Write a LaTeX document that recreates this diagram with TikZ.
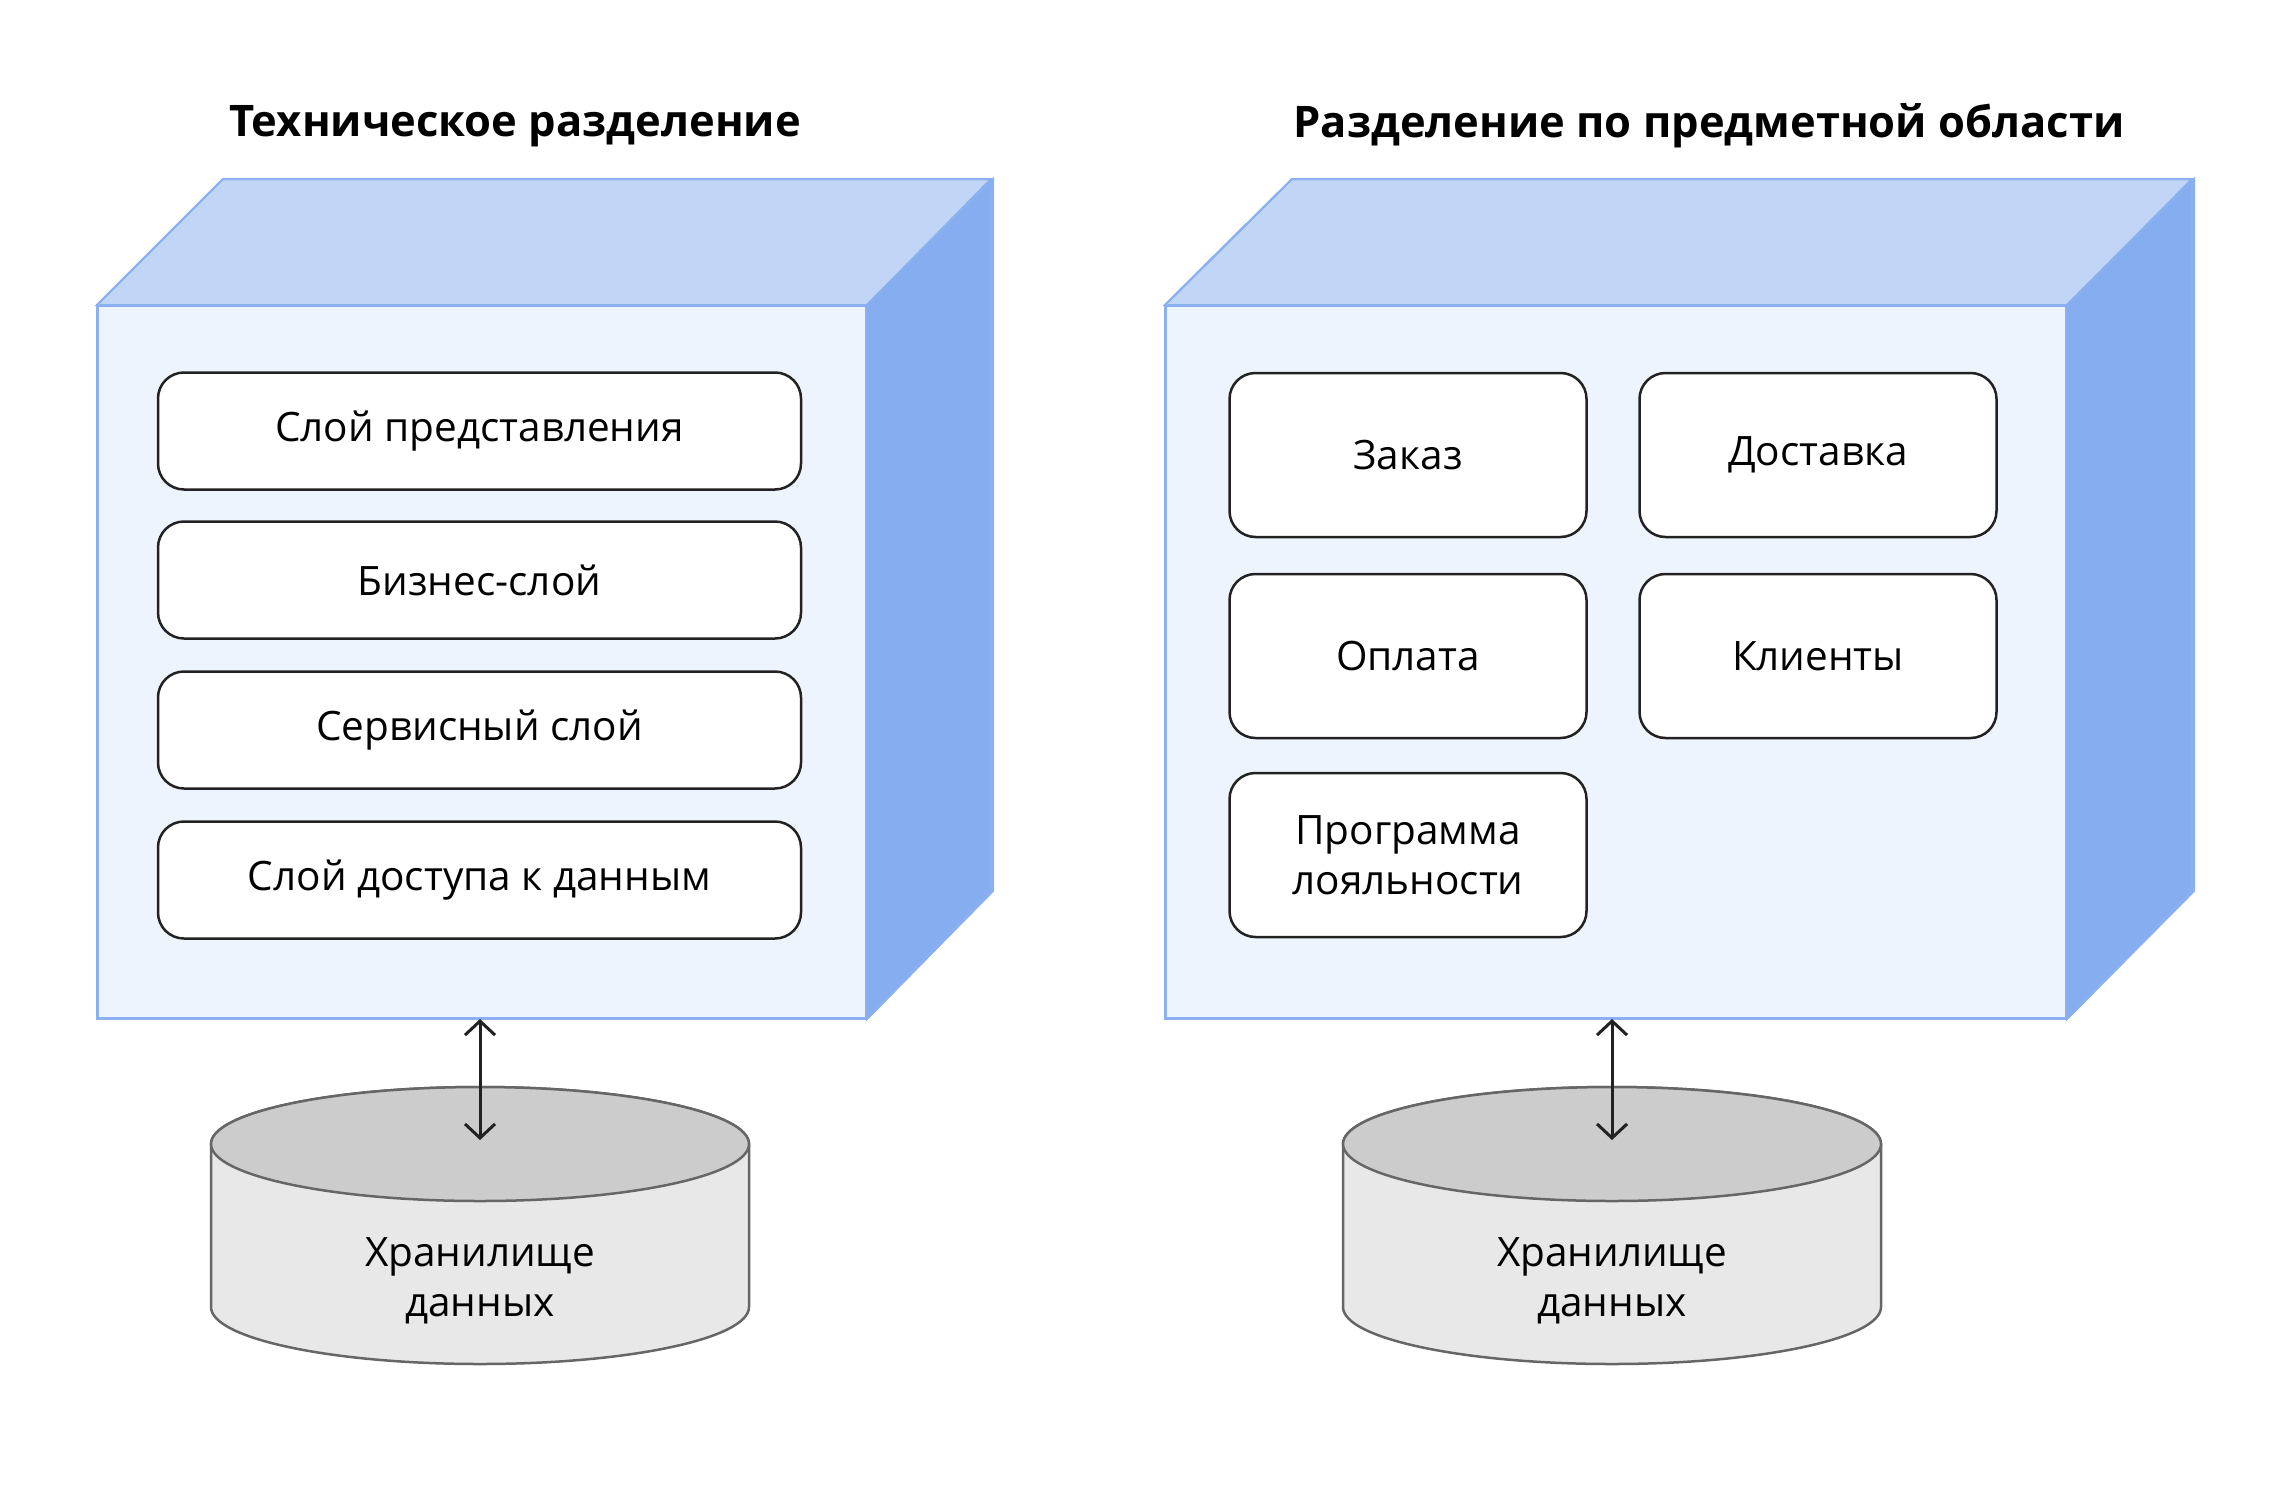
\documentclass[tikz,border=0pt]{standalone}
\usepackage{fontspec}
\setmainfont{Open Sans}
\usetikzlibrary{arrows.meta}
\definecolor{topc}{HTML}{C1D5F7}
\definecolor{sidec}{HTML}{86ADF0}
\definecolor{frontc}{HTML}{EEF4FE}
\definecolor{edgec}{HTML}{8AB0F0}
\definecolor{ink}{HTML}{222222}
\definecolor{dbtop}{HTML}{CCCCCC}
\definecolor{dbbody}{HTML}{E8E8E8}
\definecolor{dbline}{HTML}{666666}
\begin{document}
\begin{tikzpicture}[x=1pt,y=-1pt,
  face/.style={draw=edgec, line width=2pt, line join=miter},
  frontface/.style={face, fill=frontc, rectangle, inner sep=0pt},
  item/.style={draw=ink, fill=white, line width=2.5pt, rounded corners=26pt, inner sep=0pt, align=center, font=\fontsize{40.5}{50}\selectfont},
  heading/.style={font=\fontsize{43.5}{52}\selectfont\bfseries},
  dbtext/.style={align=center, font=\fontsize{40.5}{50}\selectfont},
  dbshape/.style={draw=dbline, line width=2.5pt},
  link/.style={draw=ink, line width=3pt, {Straight Barb[length=14pt,width=30pt,line width=3pt]}-{Straight Barb[length=14pt,width=30pt,line width=3pt]}},
]
\useasboundingbox[fill=white] (0,0) rectangle (2293,1501);

% ---------- titles ----------
\node[heading] (titleL) at (515,126) {Техническое разделение};
\node[heading] (titleR) at (1709,126) {Разделение по предметной области};

% ---------- left cube ----------
\node[frontface, minimum width=768pt, minimum height=712pt] (frontL) at (482,662) {};
\fill[face, fill=topc] (frontL.north west) -- ++(126,-126) -- ++(768,0) -- (frontL.north east) -- cycle;
\fill[face, fill=sidec] (frontL.north east) -- ++(126,-126) -- ++(0,712) -- (frontL.south east) -- cycle;
\draw[face] (frontL.north west) -- ++(126,-126) -- ++(768,0) -- ++(0,712) -- (frontL.south east);
\draw[face] (frontL.north east) -- ++(126,-126);
\draw[face] (frontL.north west) rectangle (frontL.south east);

\node[item, minimum width=643pt, minimum height=117pt] (l1) at (479.5,431) {\raisebox{-7pt}{Слой представления}};
\node[item, minimum width=643pt, minimum height=117pt] (l2) at (479.5,580) {\raisebox{-7pt}{Бизнес-слой}};
\node[item, minimum width=643pt, minimum height=117pt] (l3) at (479.5,730) {\raisebox{-7pt}{Сервисный слой}};
\node[item, minimum width=643pt, minimum height=117pt] (l4) at (479.5,880) {\raisebox{-7pt}{Слой доступа к данным}};

% ---------- right cube ----------
\node[frontface, minimum width=900pt, minimum height=712pt] (frontR) at (1616,662) {};
\fill[face, fill=topc] (frontR.north west) -- ++(127,-126) -- ++(900,0) -- (frontR.north east) -- cycle;
\fill[face, fill=sidec] (frontR.north east) -- ++(127,-126) -- ++(0,712) -- (frontR.south east) -- cycle;
\draw[face] (frontR.north west) -- ++(127,-126) -- ++(900,0) -- ++(0,712) -- (frontR.south east);
\draw[face] (frontR.north east) -- ++(127,-126);
\draw[face] (frontR.north west) rectangle (frontR.south east);

\node[item, minimum width=357pt, minimum height=164pt] (r1) at (1408,455) {\raisebox{-6pt}{Заказ}};
\node[item, minimum width=357pt, minimum height=164pt] (r2) at (1818,455) {\raisebox{-6pt}{Доставка}};
\node[item, minimum width=357pt, minimum height=164pt] (r3) at (1408,656) {\raisebox{-6pt}{Оплата}};
\node[item, minimum width=357pt, minimum height=164pt] (r4) at (1818,656) {\raisebox{-6pt}{Клиенты}};
\node[item, minimum width=357pt, minimum height=164pt] (r5) at (1408,855) {Программа\\лояльности};

% ---------- left storage ----------
\draw[dbshape, fill=dbbody] (211,1144) -- (211,1307) arc[start angle=180, end angle=0, x radius=269, y radius=57] -- (749,1144) arc[start angle=0, end angle=-180, x radius=269, y radius=57] -- cycle;
\draw[dbshape, fill=dbtop] (480,1144) ellipse[x radius=269, y radius=57];
\node[dbtext] (dbL) at (480,1281) {Хранилище\\данных};
\coordinate (dbLtop) at (480,1140);
\draw[link] (frontL.south -| dbLtop) -- (dbLtop);

% ---------- right storage ----------
\draw[dbshape, fill=dbbody] (1343,1144) -- (1343,1307) arc[start angle=180, end angle=0, x radius=269, y radius=57] -- (1881,1144) arc[start angle=0, end angle=-180, x radius=269, y radius=57] -- cycle;
\draw[dbshape, fill=dbtop] (1612,1144) ellipse[x radius=269, y radius=57];
\node[dbtext] (dbR) at (1612,1281) {Хранилище\\данных};
\coordinate (dbRtop) at (1612,1140);
\draw[link] (frontR.south -| dbRtop) -- (dbRtop);
\end{tikzpicture}
\end{document}
